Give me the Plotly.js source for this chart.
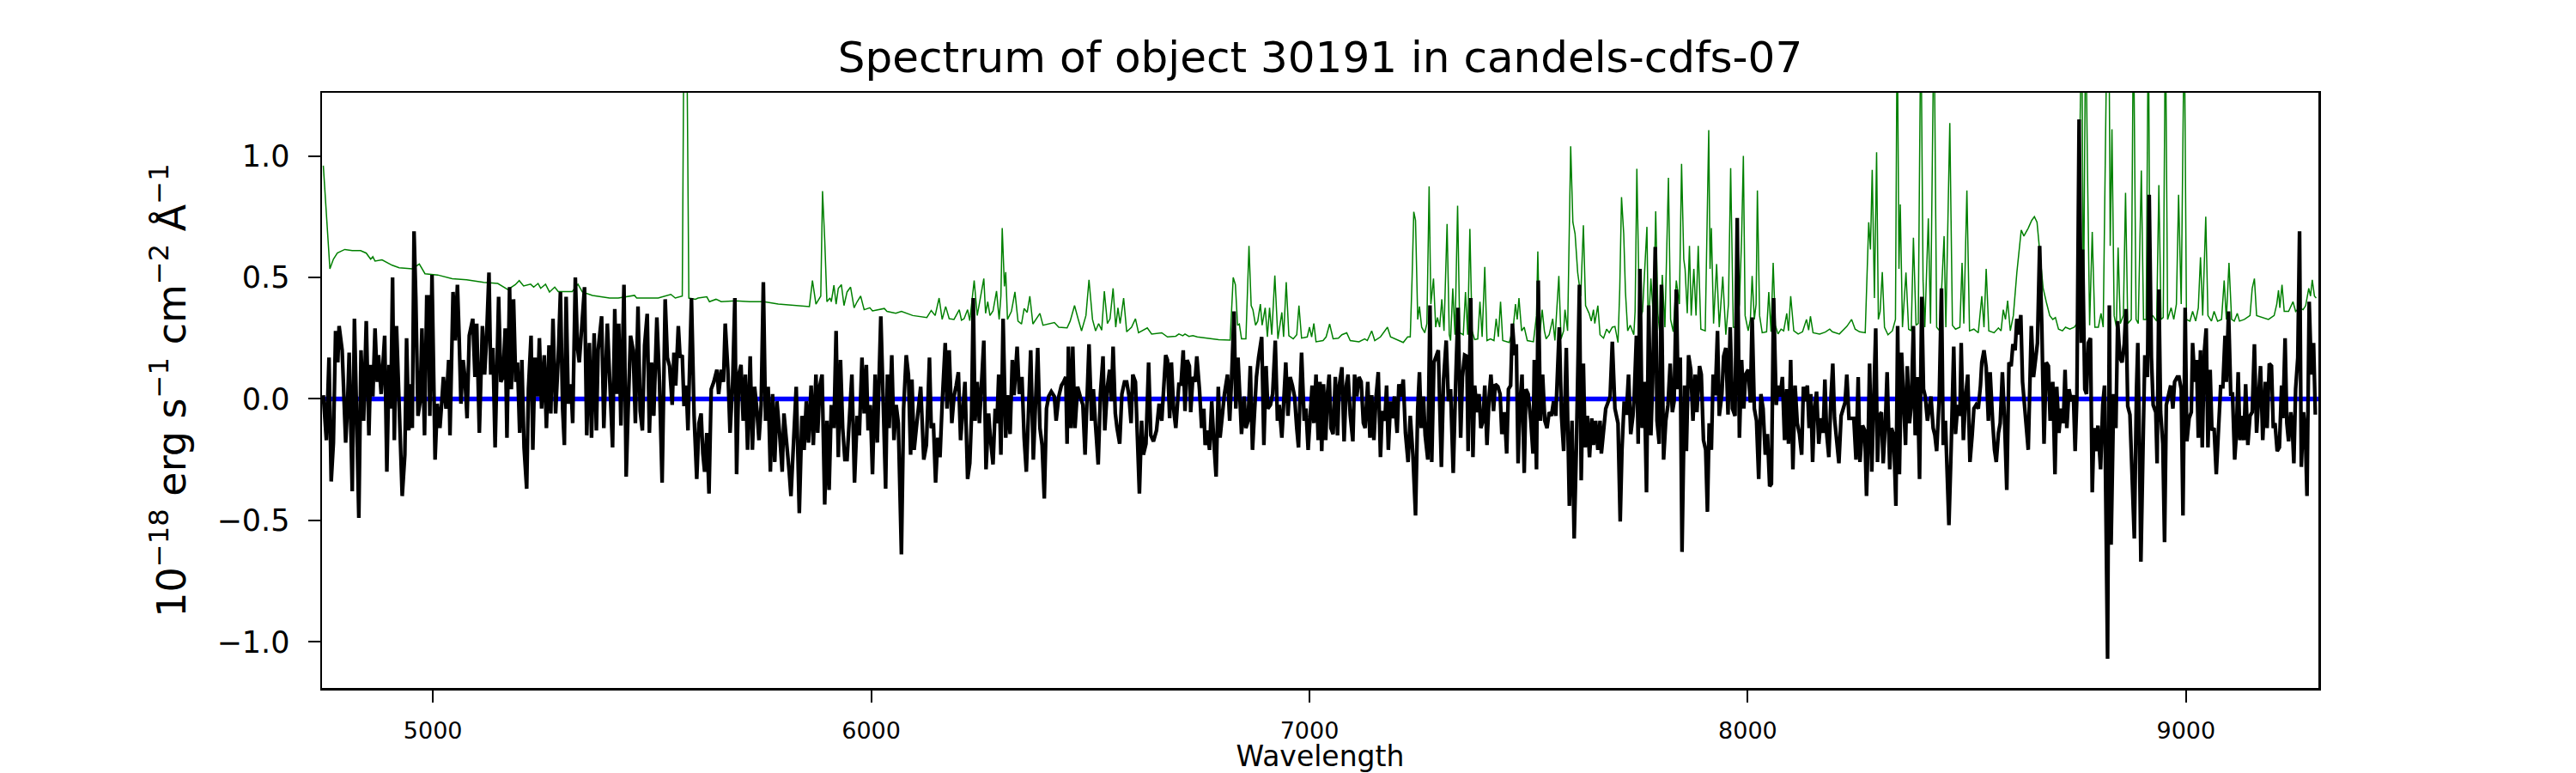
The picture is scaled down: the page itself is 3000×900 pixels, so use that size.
<!DOCTYPE html>
<html>
<head>
<meta charset="utf-8">
<script src="https://cdn.plot.ly/plotly-3.0.1.min.js"></script>
<style>
  html, body { margin: 0; padding: 0; background: #fff; }
  #chart { width: 3000px; height: 900px; }
</style>
</head>
<body>
<div id="chart"></div>
<script>
const wave = [
  4750,4757,4763,4768,4773,4778,4783,4786,4793,4801,4805,4809,4816,4821,4826,4831,4836,4842,4848,4854,
  4858,4863,4868,4873,4876,4882,4890,4895,4900,4904,4908,4912,4917,4923,4930,4936,4940,4945,4948,4953,
  4957,4961,4966,4971,4975,4981,4986,4990,4993,4998,5005,5010,5016,5020,5024,5030,5036,5039,5046,5051,
  5056,5060,5064,5069,5073,5078,5083,5091,5096,5100,5106,5113,5118,5122,5128,5132,5137,5142,5150,5155,
  5160,5165,5169,5175,5179,5184,5189,5193,5198,5203,5208,5214,5218,5224,5228,5233,5239,5243,5248,5254,
  5259,5265,5269,5274,5280,5286,5291,5296,5300,5304,5309,5315,5319,5325,5330,5334,5341,5346,5351,5357,
  5362,5368,5373,5377,5385,5390,5398,
  5404,5410,5415,5419,5424,5429,5436,5441,5445,5451,5457,5462,5468,5473,5478,5483,5489,5494,5499,5504,
  5511,5517,5523,5530,5535,5540,5546,5550,5554,5560,5564,5569,5573,5578,5582,5590,5596,5602,5607,5612,
  5616,5620,5625,5630,5635,5641,5648,5652,5658,5663,5667,5673,5678,5684,5689,5693,5698,5703,5708,5713,
  5718,5724,5729,5734,5739,5744,5749,5754,5759,5765,5770,5775,5780,5785,5791,5797,5801,5808,5813,5817,
  5823,5829,5832,5836,5842,5847,5852,5857,5863,5868,5874,5878,5883,5888,5894,5899,5904,5909,5915,5920,
  5925,5930,5935,5940,5945,5950,5956,5962,5968,5973,5979,5984,5989,5993,5998,6003,6009,6014,6022,
  6033,6037,6041,6047,6052,6057,6062,6069,6074,6080,6085,6090,6093,6098,6103,6108,6113,6120,6126,6133,
  6137,6142,6147,6152,6157,6162,6169,6173,6178,6184,6189,6194,6199,6204,6209,6214,6220,6225,6229,6233,
  6237,6242,6247,6251,6257,6262,6268,6272,6278,6283,6287,6291,6296,6301,6307,6311,6317,6322,6326,6333,
  6338,6344,6349,6354,6359,6364,6370,6375,6380,6385,6390,6395,6400,6405,6411,6418,6422,6428,6434,6439,
  6444,6447,6450,6456,6460,6465,6471,6477,6483,6488,6493,6497,6503,6507,6512,6518,6523,6529,6533,6539,
  6544,6548,6552,6557,6561,6567,6572,6578,6583,6588,6593,6597,6603,6607,6612,6617,6621,6627,6633,6638,
  6644,6651,6657,6663,6668,6672,
  6676,6681,6685,6690,6695,6702,6707,6712,6716,6721,6726,6729,6734,6739,6743,6749,6754,6759,6762,6767,
  6772,6777,6781,6787,6792,6796,6801,6806,6813,6818,6822,6828,6832,6837,6841,6845,6851,6855,6860,6865,
  6870,6875,6879,6884,6891,6896,6901,6905,6911,6916,6922,6927,6931,6937,6942,6946,6951,6956,6961,6966,
  6971,6975,6979,6982,6988,6992,6997,7002,7006,7010,7015,7020,7024,7028,7032,7037,7041,7045,7049,7054,
  7059,7064,7068,7074,7079,7084,7088,7093,7099,7103,7108,7113,7118,7123,7127,7133,7138,7142,7147,7152,
  7157,7162,7166,7172,7176,7180,7185,7189,7194,7200,7204,7209,7214,7219,7225,7230,7236,7242,7247,7251,
  7255,7260,7264,7270,7275,7279,7284,7289,7294,7301,7306,7312,7317,
  7322,7328,7334,7339,7345,7349,7354,7359,7362,7368,7373,7377,7382,7387,7391,7396,7400,7405,7410,7414,
  7420,7424,7430,7435,7439,7445,7450,7454,7459,7463,7468,7472,7476,7480,7485,7490,7494,7499,7505,7510,
  7513,7518,7522,7527,7532,7537,7542,7547,7552,7557,7562,7565,7570,7575,7580,7586,7593,7599,7604,7609,
  7616,7620,7625,7629,7634,7639,7644,7648,7653,7658,7663,7666,7671,7676,7681,7686,7691,7697,7704,7709,
  7713,7718,7723,7728,7733,7738,7741,7746,7750,7754,7759,7764,7769,7774,7779,7783,7789,7793,7798,7803,
  7808,7813,7818,7823,7828,7832,7837,7841,7846,7850,7856,7860,7865,7870,7875,7880,7884,7890,7894,7899,
  7904,7908,7912,7917,7921,7926,7931,7935,7941,7945,7950,7955,7960,7965,
  7971,7976,7981,7986,7991,7995,8001,8006,8010,8015,8020,8025,8030,8035,8040,8045,8050,8054,8059,8065,
  8069,8074,8079,8084,8089,8093,8098,8103,8108,8113,8118,8123,8127,8131,8136,8140,8144,8148,8152,8157,
  8162,8167,8172,8176,8180,8185,8190,8194,8198,8203,8208,8213,8217,8222,8226,8231,8236,8242,8247,8252,
  8256,8262,8267,8271,8275,8278,8283,8288,8292,8296,8300,8305,8309,8314,8318,8324,8328,8333,8338,8342,
  8346,8351,8355,8360,8364,8369,8373,8378,8382,8387,8392,8397,8401,8405,8410,8414,8418,8423,8427,8431,
  8437,8442,8446,8451,8455,8459,8464,8470,8474,8479,8484,8487,8492,8497,8502,8507,8512,8516,8521,8526,
  8531,8534,8539,8544,8549,8553,8559,8563,8567,8572,8576,8581,8586,8591,8596,8601,8605,8610,8614,8619,
  8623,8627,
  8640,8647,8652,8656,8661,8666,8671,8676,8681,8686,8690,8696,8701,8705,8710,8715,8720,8724,8728,8733,
  8738,8743,8747,8751,8756,8761,8764,8769,8773,8777,8782,8786,8790,8795,8799,8805,8810,8814,8818,8821,
  8825,8829,8835,8840,8844,8849,8854,8859,8863,8867,8872,8876,8882,8887,8890,8893,8897,8903,8906,8912,
  8916,8921,8925,8931,8934,8938,8942,8947,8951,8955,8960,8965,8970,8974,8980,8984,8989,8993,8998,9002,
  9007,9012,9015,9020,9024,9028,9033,9037,9042,9046,9050,9055,9059,9064,9069,9074,9079,9084,9089,9092,
  9097,9102,9106,9111,9115,9119,9123,9128,9132,9136,9141,9146,9151,9156,9161,9166,9170,9175,9181,9185,
  9190,9195,9199,9203,9208,9213,9218,9221,9226,9230,9234,9239,9242,9246,9250,9255,9259,9263,9268,9272,
  9276,9281,9286,9291,9295
];
const flux = [
  0.015,-0.17,0.17,-0.34,-0.18,0.28,0.15,0.30,0.20,-0.18,-0.04,0.19,-0.38,0.33,-0.07,-0.49,0.20,-0.09,0.32,-0.15,
  0.14,0.01,0.29,0.07,0.18,0.02,0.26,-0.30,0.14,-0.04,0.50,-0.17,0.30,-0.04,-0.40,-0.23,0.25,-0.13,0.06,-0.12,
  0.69,0.42,-0.07,-0.01,0.29,-0.15,0.42,0.42,-0.07,0.51,-0.25,-0.02,-0.12,-0.02,0.09,-0.04,0.16,-0.15,0.44,0.24,
  0.47,0.25,-0.02,0.16,0.09,-0.08,0.26,0.33,0.09,0.31,-0.14,0.30,0.10,0.23,0.52,0.10,0.21,-0.20,0.42,0.07,
  0.09,0.29,-0.16,0.46,0.04,0.41,0.07,0.15,-0.14,0.16,-0.20,-0.37,0.04,0.26,-0.21,0.17,0.01,0.25,-0.04,0.18,
  -0.12,0.22,-0.06,0.33,-0.06,0.17,0.44,-0.04,-0.19,0.42,-0.02,0.06,-0.10,0.50,0.21,0.15,0.36,0.46,-0.15,0.23,
  -0.16,0.27,-0.13,0.20,0.34,-0.12,0.31,
  0.02,-0.20,0.37,0.02,0.31,-0.11,0.47,-0.32,-0.07,0.26,0.20,-0.10,0.38,-0.05,-0.13,0.22,0.35,-0.14,0.15,-0.07,
  0.335,0.07,-0.345,0.41,0.17,0.135,-0.025,0.19,0.055,0.30,0.17,0.18,-0.03,0.055,-0.13,0.415,-0.07,-0.33,-0.10,-0.06,
  -0.225,-0.30,-0.14,-0.39,0.04,0.07,0.12,0.02,0.12,0.07,0.31,0.12,-0.14,0.07,0.415,-0.31,0.10,0.14,-0.09,0.10,
  -0.21,0.175,-0.21,0.05,-0.04,-0.17,-0.025,0.48,-0.09,0.05,-0.30,0.02,-0.26,-0.01,-0.14,-0.30,-0.06,-0.18,-0.30,-0.40,
  -0.15,0.05,-0.17,-0.47,-0.07,-0.21,-0.01,-0.18,0.055,-0.19,0.10,-0.14,0.055,0.10,-0.435,-0.09,-0.375,-0.025,-0.12,0.28,
  -0.24,0.16,-0.12,-0.25,-0.25,-0.07,0.10,-0.345,-0.07,-0.15,0.17,-0.06,0.14,-0.13,-0.025,-0.31,0.10,-0.18,0.34,
  -0.37,0.10,-0.12,0.18,-0.17,-0.025,-0.10,-0.64,-0.04,0.18,0.10,-0.23,0.08,-0.21,-0.12,-0.04,0.05,-0.25,-0.19,0.17,
  -0.12,-0.10,-0.345,-0.16,-0.24,-0.02,0.23,-0.04,0.20,-0.10,0.01,0.055,0.11,-0.17,-0.065,0.07,-0.33,-0.265,-0.07,0.415,
  -0.09,0.07,-0.10,0.04,0.24,-0.29,-0.06,-0.16,-0.27,-0.04,-0.10,0.10,-0.23,0.33,-0.16,0.015,-0.145,0.16,0.015,0.215,
  0.02,0.09,-0.16,-0.30,-0.06,0.20,-0.25,-0.04,0.21,-0.12,-0.19,-0.41,-0.04,0.01,0.03,0.01,-0.09,0.01,0.055,0.07,
  0.09,-0.185,0.215,-0.12,0.215,-0.12,0.05,0.01,-0.025,-0.23,0.01,0.225,-0.09,0.04,-0.11,-0.27,0.02,0.175,-0.13,0.05,
  0.12,-0.01,0.215,-0.06,-0.12,-0.185,0.02,0.07,0.07,0.015,-0.10,0.10,0.07,-0.12,-0.39,-0.09,-0.23,-0.185,0.15,-0.15,
  -0.175,-0.13,-0.02,-0.09,0.08,0.18,
  0.16,-0.08,0.15,-0.04,-0.12,0.06,0.06,0.20,-0.05,0.16,0.135,-0.055,0.09,0.07,0.175,0.04,-0.12,-0.04,-0.19,-0.13,
  -0.21,-0.01,-0.15,-0.32,0.05,-0.16,-0.07,0.02,0.10,-0.09,0.07,0.36,-0.04,0.17,0.015,-0.145,0.01,-0.12,-0.09,0.135,
  -0.21,-0.04,0.09,0.17,0.255,-0.19,0.135,-0.04,-0.025,0.02,0.24,-0.09,-0.025,-0.16,0.055,0.15,-0.07,0.09,0.055,0.01,
  -0.12,-0.20,0.04,0.19,-0.09,-0.04,-0.21,-0.025,0.055,-0.10,0.10,-0.17,0.07,-0.215,0.06,-0.17,0.02,0.10,-0.12,-0.145,
  0.09,-0.15,0.055,0.13,-0.175,0.055,0.10,-0.065,-0.175,0.10,0.01,0.09,0.07,-0.10,-0.12,0.07,-0.16,0.015,-0.17,0.01,
  0.11,-0.24,-0.05,-0.09,0.055,-0.21,-0.01,-0.08,0.01,-0.14,0.06,0.01,0.08,-0.14,-0.26,-0.07,-0.23,-0.48,-0.04,0.11,
  -0.12,0.01,-0.15,-0.25,0.385,-0.26,0.15,0.175,0.20,-0.28,0.08,0.24,-0.01,
  0.04,-0.305,0.09,0.375,-0.16,0.09,0.18,0.175,-0.215,0.415,-0.24,0.055,-0.055,0.02,-0.12,-0.09,0.055,-0.19,0.01,0.10,
  -0.05,0.06,0.05,0.02,-0.145,-0.055,-0.225,0.04,0.055,0.31,0.18,0.225,-0.265,-0.03,0.10,-0.305,0.04,0.02,-0.09,-0.225,
  0.16,-0.29,0.487,-0.09,0.10,-0.09,-0.12,-0.055,-0.07,-0.01,-0.07,0.04,0.295,-0.07,-0.215,0.21,-0.44,-0.09,-0.575,-0.20,
  0.47,-0.335,0.145,-0.20,-0.07,-0.24,-0.08,-0.19,-0.09,-0.21,-0.09,-0.225,-0.145,-0.04,-0.015,0.01,0.235,-0.04,-0.10,-0.505,
  -0.21,-0.01,-0.065,0.10,-0.145,-0.07,0.01,0.26,-0.185,0.535,-0.12,0.07,-0.385,0.385,-0.15,0.07,0.625,-0.09,-0.185,0.47,
  -0.25,-0.09,-0.025,0.145,-0.055,-0.01,0.45,0.04,0.17,-0.63,0.055,-0.215,0.18,0.12,-0.09,0.10,-0.055,0.135,0.10,-0.17,
  -0.21,-0.465,-0.10,-0.21,0.10,0.015,0.28,-0.07,0.02,0.175,0.21,-0.065,0.295,-0.04,
  -0.07,0.745,-0.16,0.16,-0.04,0.10,0.12,-0.015,0.335,-0.04,-0.09,-0.33,0.02,-0.04,-0.23,-0.145,-0.36,-0.35,0.415,-0.025,
  0.055,0.01,0.09,-0.17,0.04,-0.185,0.16,-0.29,0.055,-0.10,-0.145,-0.23,0.05,-0.01,0.055,-0.12,0.02,-0.26,-0.05,0.03,
  -0.185,-0.08,-0.14,0.08,-0.14,-0.24,0.01,0.145,-0.08,-0.175,-0.265,-0.07,-0.04,-0.015,0.10,-0.08,-0.08,-0.08,-0.25,0.09,
  -0.26,-0.11,-0.13,-0.40,-0.14,0.145,-0.30,0.0,0.29,-0.26,-0.07,-0.055,-0.265,-0.10,0.11,-0.29,-0.12,-0.15,-0.44,0.30,
  -0.31,0.19,-0.025,-0.19,0.135,-0.10,-0.03,0.30,-0.15,0.09,-0.33,0.42,0.04,0.01,-0.09,-0.04,0.01,-0.12,-0.15,-0.215,
  0.01,0.455,-0.19,-0.09,-0.31,-0.52,-0.21,0.215,-0.145,-0.025,-0.07,0.23,-0.17,0.01,0.10,-0.26,-0.15,-0.04,-0.025,-0.04,
  0.055,0.15,0.20,0.13,-0.09,0.11,-0.10,-0.21,-0.26,-0.14,-0.10,0.11,-0.09,-0.375,0.15,0.135,0.225,0.20,0.33,0.265,
  0.345,0.07,
  -0.21,0.30,0.09,0.17,0.23,0.63,0.295,-0.185,0.15,0.135,-0.09,0.07,-0.31,0.05,-0.14,-0.04,-0.10,0.12,-0.12,0.04,
  -0.01,0.015,-0.215,0.01,1.15,0.23,0.615,0.04,0.02,0.23,0.25,-0.385,-0.12,-0.215,-0.11,-0.29,-0.025,0.055,-0.47,-1.07,
  0.385,-0.60,0.02,-0.12,0.32,0.17,0.15,0.225,0.37,-0.03,-0.065,-0.25,-0.575,0.04,0.23,-0.10,-0.67,-0.09,0.18,0.09,
  0.84,0.17,-0.025,-0.055,-0.265,0.45,-0.055,-0.185,-0.59,-0.025,0.01,0.055,-0.04,0.07,0.09,0.09,0.04,-0.48,0.375,-0.175,
  -0.08,-0.055,0.23,0.07,0.16,-0.16,0.20,-0.20,0.20,0.29,-0.20,0.12,-0.13,-0.12,-0.31,-0.13,0.05,0.05,0.26,0.07,
  0.36,0.02,0.02,-0.25,-0.14,0.11,-0.17,-0.07,-0.17,0.06,-0.19,-0.07,-0.055,0.225,-0.14,0.02,0.135,-0.17,0.07,-0.12,
  0.145,0.135,-0.12,-0.10,-0.215,-0.20,0.055,-0.08,0.25,-0.10,-0.175,-0.055,-0.10,-0.265,0.04,0.17,0.69,-0.28,-0.055,-0.13,
  -0.40,0.40,0.10,0.23,-0.065
];

// green curve (sky / noise)
const skyWave = [
  4750,4755,4765,4773,4782,4799,4816,4835,4848,4858,4863,4868,4884,4907,4923,4953,4969,4982,5011,5044,
  5077,5116,5148,5171,5188,5197,5207,5223,5230,5240,5246,5257,5266,5278,5286,5318,5331,5341,5364,5403,
  5423,5460,5465,5514,5543,5553,5569,5573,5579,5584,5599,5605,5625,5631,5646,5658,5690,5723,5755,5788,
  5827,5859,5866,5874,5885,5889,5894,5899,5906,5909,5915,5920,5925,5932,5938,5945,5953,5961,5968,5976,
  5984,5997,6003,
  6030,6036,6056,6069,6095,6127,6137,6146,6155,6162,6170,6178,6189,6201,6206,6212,6220,6225,6235,6242,
  6248,6257,6261,6266,6271,6278,6286,6292,6296,6299,6304,6307,6311,6320,6328,6335,6343,6349,6356,6362,
  6369,6385,6392,6418,6428,6447,6454,6464,6472,6480,6490,6497,6505,6512,6519,6526,6532,6539,6545,6552,
  6558,6563,6568,6576,6583,6594,6603,6610,6630,6640,6663,
  6676,6695,6702,6711,6716,6725,6734,6744,6767,6783,6793,6819,6826,6831,6836,6840,6845,6855,6862,6867,
  6871,6877,6882,6888,6892,6899,6904,6909,6914,6921,6928,6937,6941,6947,6953,6963,6971,6976,6982,6995,
  7000,7005,7010,7015,7031,7038,7046,7054,7066,7074,7085,7093,7113,7126,7132,7142,7149,7162,7178,7185,
  7198,7214,7224,7230,7234,7238,7242,7247,7251,7256,7263,7268,7273,7277,7283,7288,7292,7297,7302,7307,
  7314,7319,
  7322,7327,7332,7338,7343,7351,7356,7361,7366,7371,7377,7384,7389,7394,7400,7405,7413,7421,7426,7431,
  7436,7441,7456,7465,7470,7474,7478,7484,7490,7497,7511,7518,7521,7525,7531,7536,7540,7547,7555,7560,
  7569,7574,7580,7583,7589,7596,7601,7606,7612,7619,7625,7630,7638,7643,7648,7651,7658,7663,7671,7678,
  7684,7691,7697,7704,7708,7712,7717,7721,7726,7732,7740,7743,7747,7753,7760,7766,7770,7773,7779,7785,
  7790,7795,7800,7805,7811,7819,7824,7830,7837,7844,7849,7854,7857,7862,7867,7871,7877,7882,7887,7893,
  7903,7911,7914,7917,7922,7929,7935,7943,7950,7956,7961,7967,
  7974,7981,7986,7990,7994,8001,8006,8010,8015,8019,8022,8027,8033,8043,8048,8053,8058,8063,8069,8076,
  8082,8089,8093,8098,8105,8115,8125,8134,8139,8143,8149,8164,8177,8187,8193,8209,8226,8237,8245,8255,
  8268,8276,8280,8284,8289,8294,8298,8302,8307,8312,8320,8330,8337,8341,8345,8348,8353,8361,8367,8373,
  8378,8384,8389,8395,8400,8404,8412,8417,8425,8431,8438,8448,8452,8461,8467,8474,8484,8489,8493,8500,
  8506,8516,8526,8534,8539,8544,8550,8562,8572,8578,8583,8588,8593,8599,8606,8614,8624,8630,
  8640,8648,8654,8660,8666,8674,8681,8689,8696,8702,8709,8718,8725,8735,8745,8751,8756,8762,8766,8771,
  8775,8780,8786,8792,8800,8806,8811,8820,8824,8827,8831,8836,8841,8845,8850,8857,8862,8867,8875,8880,
  8886,8891,8898,8903,8909,8914,8918,8924,8933,8938,8943,8948,8953,8958,8966,8972,8978,8983,8989,8996,
  9001,9009,9015,9022,9028,9033,9038,9045,9050,9058,9064,9072,9081,9087,9092,9098,9104,9110,9117,9122,
  9133,9146,9151,9156,9161,9175,9188,9201,9207,9211,9214,9219,9224,9234,9244,9250,9259,9267,9273,9280,
  9284,9288,9293,9297
];
const skyFlux = [
  0.96,0.81,0.535,0.575,0.60,0.615,0.61,0.61,0.60,0.575,0.585,0.567,0.572,0.55,0.54,0.535,0.555,0.515,0.51,0.495,
  0.49,0.48,0.475,0.45,0.47,0.487,0.465,0.472,0.46,0.475,0.455,0.472,0.44,0.46,0.442,0.442,0.472,0.44,0.426,0.415,
  0.415,0.426,0.415,0.415,0.43,0.415,0.423,1.6,1.6,0.415,0.41,0.415,0.42,0.40,0.41,0.40,0.404,0.40,0.40,0.39,
  0.384,0.38,0.487,0.39,0.423,0.855,0.655,0.40,0.415,0.40,0.468,0.39,0.455,0.47,0.384,0.44,0.46,0.375,0.40,0.423,
  0.367,0.375,0.362,
  0.372,0.36,0.352,0.36,0.343,0.335,0.364,0.343,0.415,0.327,0.38,0.33,0.327,0.367,0.324,0.33,0.367,0.322,0.487,0.343,
  0.40,0.495,0.352,0.40,0.343,0.362,0.444,0.327,0.423,0.703,0.463,0.522,0.327,0.36,0.44,0.32,0.308,0.372,0.356,0.423,
  0.308,0.352,0.303,0.314,0.295,0.292,0.32,0.384,0.33,0.28,0.343,0.49,0.327,0.28,0.31,0.283,0.443,0.31,0.33,0.455,
  0.295,0.375,0.31,0.415,0.276,0.295,0.33,0.272,0.292,0.267,0.272,
  0.255,0.258,0.267,0.26,0.267,0.257,0.26,0.255,0.25,0.247,0.244,0.242,0.50,0.47,0.303,0.308,0.247,0.247,0.63,0.384,
  0.367,0.303,0.32,0.39,0.303,0.375,0.255,0.375,0.264,0.508,0.247,0.356,0.255,0.48,0.26,0.247,0.264,0.384,0.25,0.255,
  0.295,0.255,0.31,0.235,0.24,0.255,0.308,0.247,0.25,0.264,0.272,0.24,0.235,0.247,0.24,0.28,0.24,0.255,0.295,0.255,
  0.244,0.232,0.255,0.255,0.487,0.77,0.735,0.327,0.38,0.295,0.272,0.31,0.875,0.39,0.495,0.295,0.335,0.295,0.41,0.28,
  0.72,0.264,
  0.24,0.455,0.264,0.795,0.272,0.264,0.44,0.264,0.70,0.28,0.244,0.247,0.40,0.255,0.543,0.24,0.247,0.24,0.33,0.255,
  0.40,0.24,0.232,0.295,0.39,0.327,0.415,0.28,0.295,0.24,0.235,0.343,0.607,0.255,0.367,0.28,0.247,0.264,0.33,0.24,
  0.506,0.247,0.28,0.367,0.28,1.04,0.727,0.68,0.52,0.423,0.715,0.384,0.352,0.32,0.367,0.31,0.384,0.264,0.25,0.287,
  0.272,0.295,0.298,0.232,0.455,0.83,0.68,0.44,0.28,0.303,0.264,0.36,0.947,0.327,0.36,0.583,0.708,0.28,0.495,0.327,
  0.772,0.352,0.255,0.51,0.295,0.91,0.327,0.276,0.487,0.39,0.967,0.575,0.535,0.352,0.63,0.343,0.535,0.343,0.63,0.287,
  0.28,1.106,0.535,0.703,0.31,0.555,0.295,0.503,0.264,0.39,0.95,0.295,
  0.295,0.39,0.663,1.0,0.343,0.28,0.327,0.506,0.327,0.39,0.858,0.343,0.272,0.276,0.44,0.276,0.56,0.303,0.267,0.287,
  0.28,0.352,0.28,0.423,0.28,0.267,0.276,0.327,0.283,0.34,0.272,0.267,0.275,0.287,0.276,0.267,0.298,0.327,0.287,0.276,
  0.272,0.727,0.615,0.943,0.415,1.015,0.327,0.36,0.522,0.295,0.264,0.28,0.327,1.6,0.535,0.80,0.295,0.52,0.287,0.28,
  0.663,0.303,0.31,1.6,0.487,0.295,0.743,0.31,1.6,0.295,0.28,0.67,0.295,1.135,0.303,0.287,0.295,0.56,0.31,0.858,
  0.28,0.287,0.272,0.423,0.295,0.535,0.28,0.272,0.292,0.28,0.367,0.327,0.404,0.28,0.343,0.52,0.695,0.67,
  0.703,0.735,0.75,0.727,0.60,0.455,0.40,0.343,0.327,0.335,0.287,0.28,0.295,0.287,0.295,0.31,0.855,1.6,0.31,1.6,
  0.967,0.303,0.687,0.295,0.295,0.352,0.295,1.6,1.6,0.63,1.11,0.343,0.295,0.623,0.31,0.343,0.848,0.31,0.327,1.6,
  0.327,0.31,0.94,0.327,0.327,1.6,0.343,0.343,0.32,0.88,0.327,0.335,1.6,0.327,0.375,0.327,0.39,0.84,0.39,1.6,
  0.327,0.32,0.36,0.32,0.375,0.583,0.343,0.75,0.343,0.32,0.36,0.32,0.327,0.487,0.327,0.56,0.327,0.32,0.352,0.32,
  0.327,0.343,0.455,0.495,0.343,0.335,0.327,0.343,0.39,0.447,0.375,0.47,0.36,0.36,0.40,0.36,0.375,0.367,0.384,0.455,
  0.423,0.49,0.423,0.415
];

// blue model line
const modelWave = [4747, 9302];
const modelFlux = [0, 0];

const xTicks = [5000, 6000, 7000, 8000, 9000];
const yTicks = [-1.0, -0.5, 0.0, 0.5, 1.0];
const yTickText = ['\u22121.0', '\u22120.5', '0.0', '0.5', '1.0'];

const traces = [
  {
    x: skyWave, y: skyFlux, type: 'scatter', mode: 'lines',
    line: { color: '#008000', width: 1.5 }, hoverinfo: 'skip'
  },
  {
    x: modelWave, y: modelFlux, type: 'scatter', mode: 'lines',
    line: { color: '#0000ff', width: 5.5 }, hoverinfo: 'skip'
  },
  {
    x: wave, y: flux, type: 'scatter', mode: 'lines',
    line: { color: '#000000', width: 4.3 }, hoverinfo: 'skip'
  }
];

const layout = {
  width: 3000,
  height: 900,
  showlegend: false,
  paper_bgcolor: '#ffffff',
  plot_bgcolor: '#ffffff',
  font: { family: 'DejaVu Sans', color: '#000000' },
  margin: { l: 375, r: 300, t: 108, b: 99, pad: 0 },
  title: {
    text: 'Spectrum of object 30191 in candels-cdfs-07',
    font: { size: 50, family: 'DejaVu Sans', color: '#000000' },
    x: 0.5, xref: 'paper', xanchor: 'center',
    y: 0.926, yref: 'container', yanchor: 'middle'
  },
  xaxis: {
    range: [4747, 9302],
    tickvals: xTicks,
    ticktext: xTicks.map(String),
    ticks: 'outside', ticklen: 14, tickwidth: 2, tickcolor: '#000',
    ticklabelstandoff: 10,
    tickfont: { size: 27 },
    showgrid: false, zeroline: false,
    showline: true, linecolor: '#000', linewidth: 2.5, mirror: true,
    title: { text: 'Wavelength', font: { size: 33 }, standoff: 0 }
  },
  yaxis: {
    range: [-1.19, 1.26],
    tickvals: yTicks,
    ticktext: yTickText,
    ticks: 'outside', ticklen: 14, tickwidth: 2, tickcolor: '#000',
    ticklabelstandoff: 14,
    tickfont: { size: 35 },
    showgrid: false, zeroline: false,
    showline: true, linecolor: '#000', linewidth: 2.5, mirror: true,
    title: {
      text: '10<sup>\u221218</sup> erg s<sup>\u22121</sup> cm<sup>\u22122</sup> \u00c5<sup>\u22121</sup>',
      font: { size: 46 }, standoff: 22
    }
  }
};

Plotly.newPlot('chart', traces, layout, { displayModeBar: false, staticPlot: true });
</script>
</body>
</html>
